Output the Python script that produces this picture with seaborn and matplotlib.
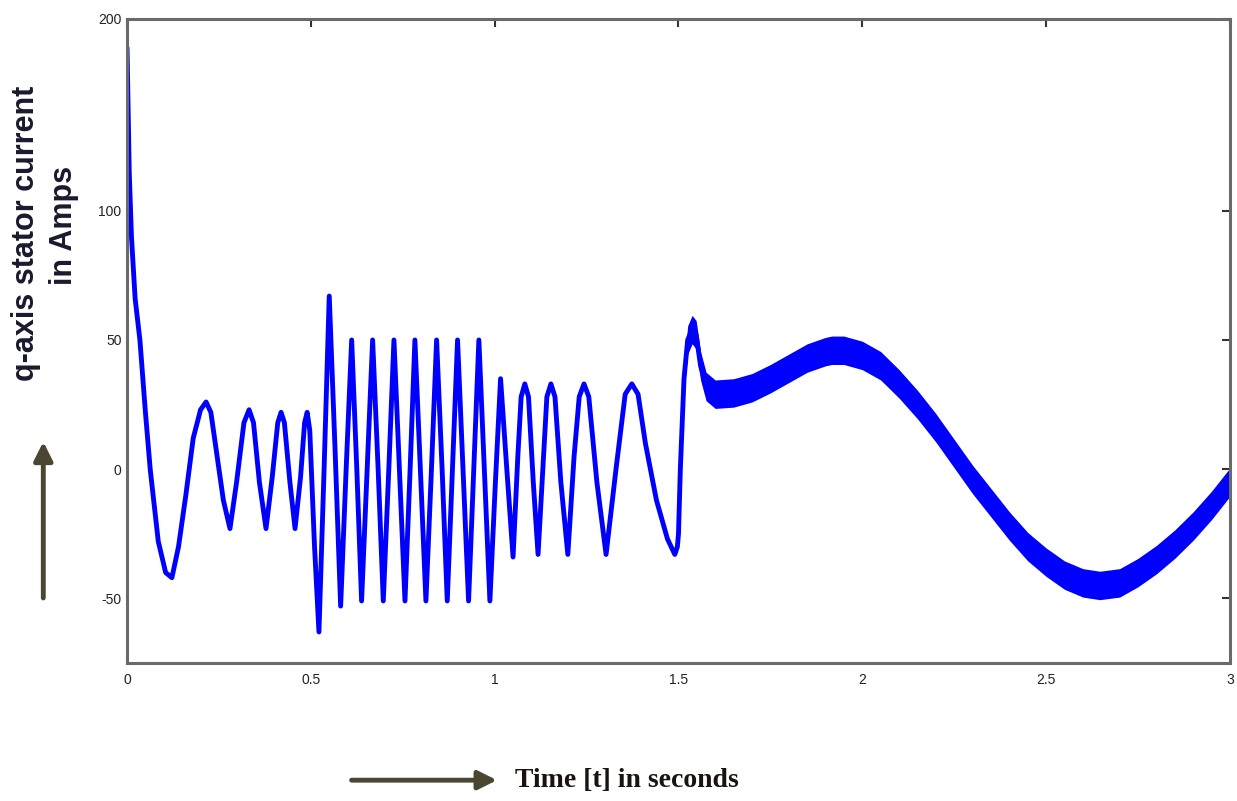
import numpy as np
import pandas as pd
import seaborn as sns
import matplotlib.pyplot as plt
from matplotlib.patches import FancyArrowPatch

# q-axis stator current (time in s, current in A)
time_s = [0.000, 0.006, 0.012, 0.022, 0.035, 0.050, 0.063, 0.085, 0.105, 0.122,
          0.140, 0.160, 0.180, 0.200, 0.215, 0.228, 0.245, 0.262, 0.280, 0.298,
          0.318, 0.332, 0.344, 0.360, 0.378, 0.395, 0.410, 0.419, 0.428, 0.443,
          0.457, 0.472, 0.483, 0.490, 0.497, 0.510, 0.522,
          0.536, 0.550, 0.566, 0.581, 0.596, 0.611, 0.625, 0.638, 0.653, 0.668,
          0.683, 0.697, 0.712, 0.726, 0.741, 0.756, 0.770, 0.783, 0.798, 0.813,
          0.828, 0.842, 0.857, 0.871, 0.885, 0.899, 0.914, 0.929, 0.943, 0.957,
          0.972, 0.987, 1.002, 1.016, 1.033, 1.050, 1.063, 1.072, 1.082, 1.092,
          1.105, 1.118, 1.132, 1.142, 1.153, 1.164, 1.180, 1.199, 1.216, 1.230,
          1.243, 1.256, 1.278, 1.303, 1.330, 1.355, 1.373, 1.390, 1.410, 1.440,
          1.470, 1.490, 1.497]
iq_amps = [185, 120, 90, 66, 50, 22, 0, -28, -40, -42,
           -30, -10, 12, 23, 26, 22, 5, -12, -23, -5,
           18, 23, 18, -5, -23, -3, 18, 22, 18, -5,
           -23, -3, 18, 22, 15, -30, -63,
           0, 67, 7, -53, 0, 50, 0, -51, 0, 50,
           0, -51, 0, 50, 0, -51, 0, 50, 0, -51,
           0, 50, 0, -51, 0, 50, 0, -51, 0, 50,
           0, -51, -5, 35, 0, -34, 5, 28, 33, 28,
           -5, -33, 3, 28, 33, 28, -5, -33, 5, 28,
           33, 28, -5, -33, 0, 29, 33, 29, 10, -12,
           -27, -33, -30]

# after the load step at 1.5 s the current carries a wide ripple band
time_late = [1.500, 1.505, 1.515, 1.525, 1.537, 1.548, 1.560, 1.575, 1.600, 1.650,
             1.700, 1.750, 1.800, 1.850, 1.900, 1.917, 1.950, 2.000, 2.050, 2.100,
             2.150, 2.200, 2.250, 2.300, 2.350, 2.400, 2.450, 2.500, 2.550, 2.600,
             2.646, 2.700, 2.750, 2.800, 2.850, 2.900, 2.950, 3.000]
iq_late = [-25, 0, 35, 50, 54, 52, 40, 32, 29, 29.5,
           31.5, 35, 39, 43, 45.5, 46, 46, 44, 40, 33,
           25, 16, 6, -4, -13, -22, -30, -36, -41, -44,
           -45, -44, -40, -35, -29, -22, -14, -5]
ripple = 5.5

xticks = [0, 0.5, 1, 1.5, 2, 2.5, 3]
xticklabels = ['0', '0.5', '1', '1.5', '2', '2.5', '3']
yticks = [-50, 0, 50, 100, 200]
yticklabels = ['-50', '0', '50', '100', '200']

sns.set_style('white')
plt.rcParams['font.family'] = ['Liberation Sans', 'DejaVu Sans']

df = pd.DataFrame({'t': time_s + time_late, 'i': iq_amps + iq_late})
late = pd.DataFrame({'t': time_late, 'i': iq_late})

fig = plt.figure(figsize=(12.37, 8.01), dpi=100)
ax = fig.add_axes([0.1027, 0.1723, 0.8916, 0.8040])


# upper part of the y axis is squeezed in the original figure
def fwd(v):
    v = np.asarray(v, dtype=float)
    return np.where(v <= 100, v, 100 + (v - 100) * 0.742)


def inv(u):
    u = np.asarray(u, dtype=float)
    return np.where(u <= 100, u, 100 + (u - 100) / 0.742)


ax.set_yscale('function', functions=(fwd, inv))

sns.lineplot(data=df, x='t', y='i', color='#0000ff', lw=3.5, ax=ax, sort=False)
ax.fill_between(late['t'], late['i'] - ripple, late['i'] + ripple,
                color='#0000ff', lw=0)

ax.set_xlim(0, 3)
ax.set_ylim(-75, 200)
ax.set_xticks(xticks)
ax.set_xticklabels(xticklabels)
ax.set_yticks(yticks)
ax.set_yticklabels(yticklabels)
ax.set_xlabel('')
ax.set_ylabel('')
ax.tick_params(direction='in', length=6, width=1.5, color='#333333',
               top=True, right=True, labelsize=10, labelcolor='#222222')
ax.tick_params(axis='x', pad=7)
ax.tick_params(axis='y', pad=4)
for s in ax.spines.values():
    s.set_color('#6a6a6a')
    s.set_linewidth(2.2)

# axis captions and arrows drawn on the figure
fig.text(0.021, 0.709, 'q-axis stator current', rotation=90, ha='center',
         va='center', fontsize=22, fontweight='bold', color='#1a1a2e')
fig.text(0.052, 0.719, 'in Amps', rotation=90, ha='center', va='center',
         fontsize=22, fontweight='bold', color='#1a1a2e')
fig.text(0.416, 0.026, 'Time [t] in seconds', ha='left', va='center',
         fontsize=20, fontweight='bold', color='#1a1410',
         family=['Liberation Serif', 'DejaVu Serif'])

arrow_col = '#4b4631'
fig.add_artist(FancyArrowPatch((0.035, 0.250), (0.035, 0.452),
                               transform=fig.transFigure, arrowstyle='-|>',
                               mutation_scale=28, lw=3.5, color=arrow_col))
fig.add_artist(FancyArrowPatch((0.282, 0.026), (0.404, 0.026),
                               transform=fig.transFigure, arrowstyle='-|>',
                               mutation_scale=28, lw=3.5, color=arrow_col))

fig.savefig('out.png', dpi=100)
